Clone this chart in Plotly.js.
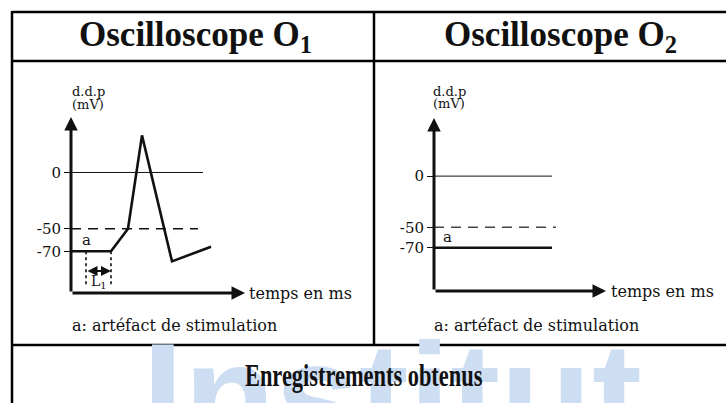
<!DOCTYPE html>
<html>
<head>
<meta charset="utf-8">
<script src="https://cdn.plot.ly/plotly-3.0.1.min.js"></script>
<style>html,body{margin:0;padding:0;background:#fff;}#chart{width:726px;height:403px;}</style>
</head>
<body>
<div id="chart"></div>
<script>
// ---- Data (time in arbitrary ms units, potential in mV) ----
const leftTime = [0, 4.0, 5.7, 7.1, 10.1, 14.0];
const leftPotential = [-70, -70, -50, 33, -79, -66];
const rightTime = [0, 11.8];
const rightPotential = [-70, -70];
const zeroLevel = 0;
const thresholdLevel = -50;
const leftZeroEnd = 13.2, leftThresholdEnd = 12.7;
const rightZeroEnd = 11.8, rightThresholdEnd = 12.2;
const artefactTimeLeft = 1.5, artefactTimeRight = 1.3;
const latencyEnd = 4.0;
const tickValues = [0, -50, -70];
const tickLabels = ['0', '-50', '-70'];
const headers = ['Oscilloscope O<sub>1</sub>', 'Oscilloscope O<sub>2</sub>'];
const footer = 'Enregistrements obtenus';
const caption = 'a: artéfact de stimulation';
const xTitle = 'temps en ms';
const yTitle1 = 'd.d.p', yTitle2 = '(mV)';

// ---- helpers ----
const W = 726, H = 403;
const px = v => v / W;
const py = v => 1 - v / H;
const serif = 'DejaVu Serif, Liberation Serif, serif';
const black = '#111';

const leftY = [-107.1, 49.3], leftX = [0, 17.4];
const rightY = [-112.3, 56.8], rightX = [0, 17.2];

const traces = [
  {x: [0, leftZeroEnd], y: [zeroLevel, zeroLevel], xaxis: 'x', yaxis: 'y', mode: 'lines', line: {color: black, width: 1}},
  {x: [0, leftThresholdEnd], y: [thresholdLevel, thresholdLevel], xaxis: 'x', yaxis: 'y', mode: 'lines', line: {color: black, width: 1.5, dash: '10px,7px'}},
  {x: leftTime, y: leftPotential, xaxis: 'x', yaxis: 'y', mode: 'lines', line: {color: black, width: 2.6}},
  {x: [artefactTimeLeft, artefactTimeLeft, null, latencyEnd, latencyEnd], y: [-70, -102, null, -70, -102], xaxis: 'x', yaxis: 'y', mode: 'lines', line: {color: black, width: 1.6, dash: 'dot'}},
  {x: [0, rightZeroEnd], y: [zeroLevel, zeroLevel], xaxis: 'x2', yaxis: 'y2', mode: 'lines', line: {color: black, width: 1}},
  {x: [0, rightThresholdEnd], y: [thresholdLevel, thresholdLevel], xaxis: 'x2', yaxis: 'y2', mode: 'lines', line: {color: '#444', width: 1.5, dash: '10px,7px'}},
  {x: rightTime, y: rightPotential, xaxis: 'x2', yaxis: 'y2', mode: 'lines', line: {color: black, width: 2.6}}
];

const yAxisCommon = {
  showgrid: false, zeroline: false, showline: false,
  tickmode: 'array', tickvals: tickValues, ticktext: tickLabels,
  ticks: 'outside', ticklen: 6, tickwidth: 1.2, tickcolor: black,
  tickfont: {family: serif, size: 15, color: black}, fixedrange: true
};
const xAxisCommon = {visible: false, showgrid: false, zeroline: false, fixedrange: true};

function axisArrow(xr, yr, x, y, ax, ay) {
  return {xref: xr, yref: yr, axref: xr, ayref: yr, x: x, y: y, ax: ax, ay: ay, text: '',
    showarrow: true, arrowhead: 2, arrowsize: 0.9, arrowwidth: 3, arrowcolor: black};
}
function txt(x, y, text, size, opts) {
  return Object.assign({xref: 'paper', yref: 'paper', x: px(x), y: py(y), text: text, showarrow: false,
    font: {family: serif, size: size, color: black}, xanchor: 'center', yanchor: 'middle'}, opts || {});
}
const headFont = s => ({family: 'Liberation Serif, serif', size: s, color: black});

const annotations = [
  // watermark
  {xref: 'paper', yref: 'paper', x: px(392), y: py(310), xanchor: 'center', yanchor: 'top', showarrow: false,
   text: '<b>Institut</b>', font: {family: 'Liberation Sans, Arial, sans-serif', size: 150, color: '#cddef2'}},
  // headers
  txt(195, 37, '<b>' + headers[0] + '</b>', 35, {font: headFont(35)}),
  txt(560, 37, '<b>' + headers[1] + '</b>', 35, {font: headFont(35)}),
  txt(364, 375, '<b>' + footer + '</b>', 32, {font: headFont(32)}),
  // axis arrows
  axisArrow('x', 'y', 0, leftY[1], 0, leftY[0]),
  axisArrow('x', 'y', leftX[1], leftY[0], 0, leftY[0]),
  axisArrow('x2', 'y2', 0, rightY[1], 0, rightY[0]),
  axisArrow('x2', 'y2', rightX[1], rightY[0], 0, rightY[0]),
  // latency double arrow
  {xref: 'x', yref: 'y', axref: 'x', ayref: 'y', x: latencyEnd, y: -87.6, ax: artefactTimeLeft, ay: -87.6, text: '',
   showarrow: true, arrowside: 'end+start', arrowhead: 2, startarrowhead: 2, arrowsize: 1, startarrowsize: 1, arrowwidth: 2, arrowcolor: black},
  {xref: 'x', yref: 'y', x: (artefactTimeLeft + latencyEnd) / 2, y: -97, text: 'L<sub>1</sub>', showarrow: false,
   font: {family: serif, size: 14, color: black}},
  // axis titles
  txt(88, 92, yTitle1, 13), txt(88, 104, yTitle2, 13),
  txt(449, 91, yTitle1, 13), txt(449, 103, yTitle2, 13),
  txt(247, 293, xTitle, 16, {xanchor: 'left'}),
  txt(609, 291, xTitle, 16, {xanchor: 'left'}),
  // artefact labels
  {xref: 'x', yref: 'y', x: artefactTimeLeft, y: -70, yanchor: 'bottom', text: 'a', showarrow: false, font: {family: serif, size: 15, color: black}},
  {xref: 'x2', yref: 'y2', x: artefactTimeRight, y: -70, yanchor: 'bottom', text: 'a', showarrow: false, font: {family: serif, size: 15, color: black}},
  // captions
  txt(70, 325, caption, 16, {xanchor: 'left'}),
  txt(432, 325, caption, 16, {xanchor: 'left'})
];

function line(x0, y0, x1, y1) {
  return {type: 'line', xref: 'paper', yref: 'paper', x0: px(x0), y0: py(y0), x1: px(x1), y1: py(y1),
    line: {color: '#000', width: 2.5}, layer: 'above'};
}
const shapes = [
  line(12, 12, 730, 12),
  line(12, 61, 730, 61),
  line(12, 345, 730, 345),
  line(12, 11, 12, 410),
  line(374, 11, 374, 345)
];

const layout = {
  width: W, height: H, margin: {l: 0, r: 0, t: 0, b: 0},
  paper_bgcolor: '#fff', plot_bgcolor: 'rgba(0,0,0,0)', showlegend: false,
  xaxis: Object.assign({}, xAxisCommon, {domain: [px(71), px(245)], range: leftX, anchor: 'y'}),
  yaxis: Object.assign({}, yAxisCommon, {domain: [py(293), py(117)], range: leftY, anchor: 'x'}),
  xaxis2: Object.assign({}, xAxisCommon, {domain: [px(434), px(606)], range: rightX, anchor: 'y2'}),
  yaxis2: Object.assign({}, yAxisCommon, {domain: [py(291), py(118)], range: rightY, anchor: 'x2'}),
  annotations: annotations, shapes: shapes
};

Plotly.newPlot('chart', traces, layout, {displayModeBar: false, staticPlot: true}).then(function (gd) {
  // the footer in the reference uses a condensed bold face: narrow it horizontally
  gd.querySelectorAll('text.annotation-text').forEach(function (t) {
    if (t.textContent === footer) {
      t.style.transformBox = 'fill-box';
      t.style.transformOrigin = 'center';
      t.style.transform = 'scaleX(0.7)';
    }
  });
});
</script>
</body>
</html>
